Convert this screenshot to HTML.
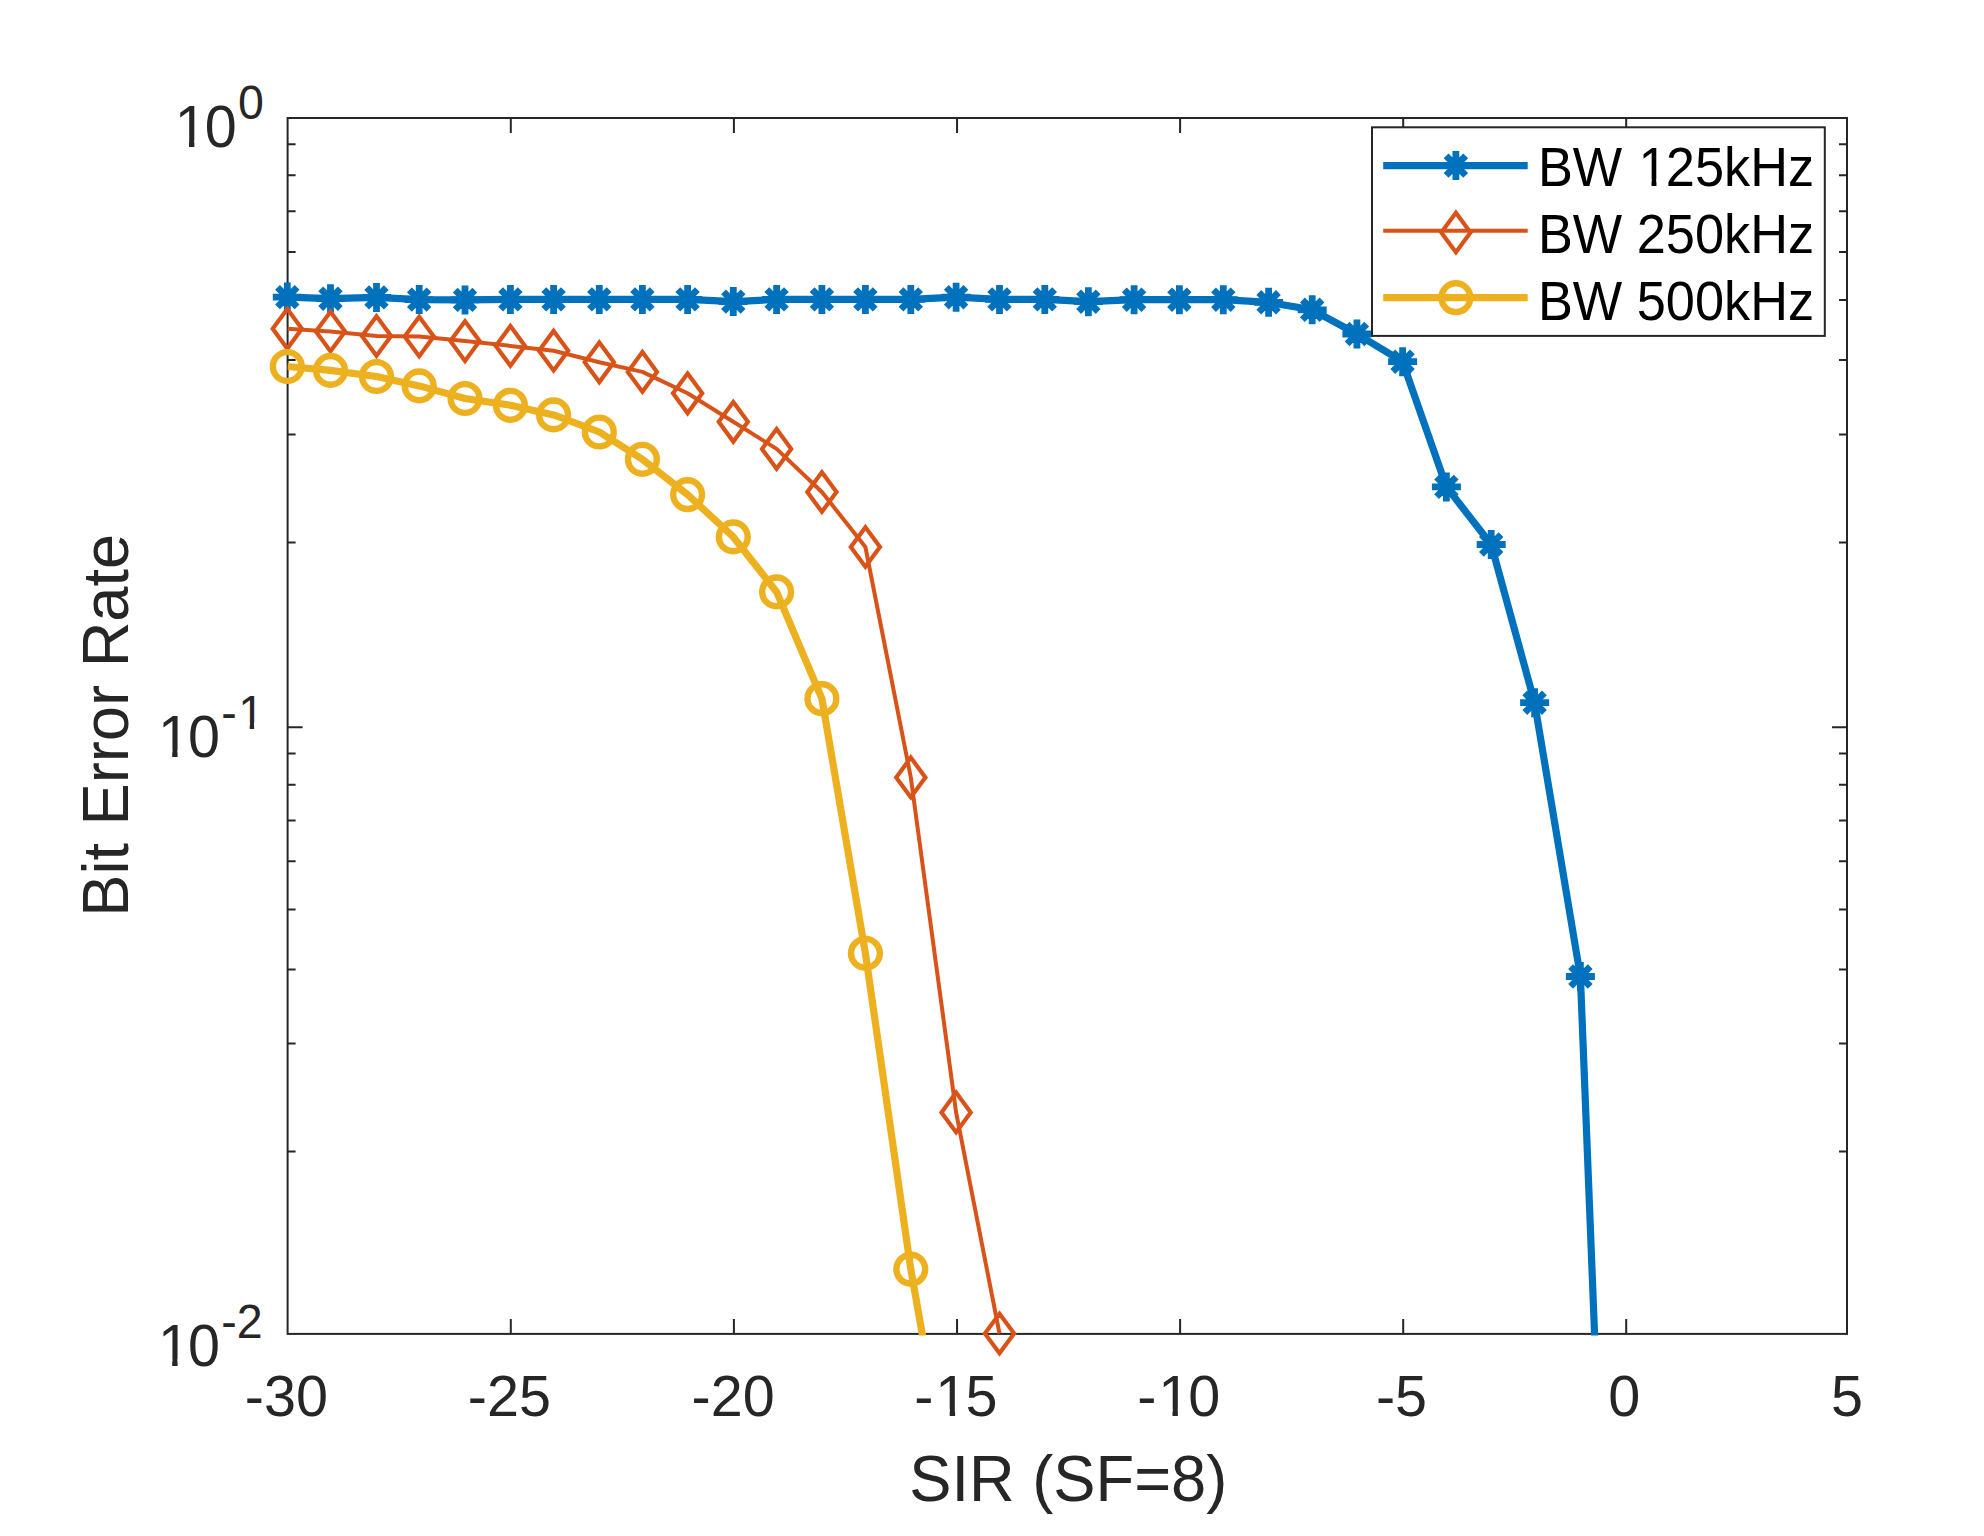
<!DOCTYPE html><html><head><meta charset="utf-8"><title>BER vs SIR</title><style>
html,body{margin:0;padding:0;background:#fff;}body{width:1984px;height:1536px;overflow:hidden;}
svg{display:block;}text{font-family:"Liberation Sans",Arial,Helvetica,sans-serif;}
</style></head><body>
<svg width="1984" height="1536" viewBox="0 0 1984 1536">
<rect width="1984" height="1536" fill="#fff"/>
<defs><clipPath id="ax"><rect x="287.6" y="118.0" width="1559.4" height="1217.5"/></clipPath></defs>
<g stroke="#262626" stroke-width="2.0" fill="none">
<rect x="287.6" y="118.0" width="1559.4" height="1215.9"/>
<path d="M510.80 1333.9v-15.0M510.80 118.0v15.0M733.90 1333.9v-15.0M733.90 118.0v15.0M957.05 1333.9v-15.0M957.05 118.0v15.0M1180.10 1333.9v-15.0M1180.10 118.0v15.0M1403.20 1333.9v-15.0M1403.20 118.0v15.0M1626.20 1333.9v-15.0M1626.20 118.0v15.0M287.6 727.2h15.0M1847.0 727.2h-15.0M287.6 144.2h8.0M1847.0 144.2h-8.0M287.6 175.3h8.0M1847.0 175.3h-8.0M287.6 211.2h8.0M1847.0 211.2h-8.0M287.6 252.0h8.0M1847.0 252.0h-8.0M287.6 300.1h8.0M1847.0 300.1h-8.0M287.6 359.9h8.0M1847.0 359.9h-8.0M287.6 434.6h8.0M1847.0 434.6h-8.0M287.6 542.5h8.0M1847.0 542.5h-8.0M287.6 753.5h8.0M1847.0 753.5h-8.0M287.6 784.7h8.0M1847.0 784.7h-8.0M287.6 820.4h8.0M1847.0 820.4h-8.0M287.6 861.2h8.0M1847.0 861.2h-8.0M287.6 909.4h8.0M1847.0 909.4h-8.0M287.6 969.4h8.0M1847.0 969.4h-8.0M287.6 1043.6h8.0M1847.0 1043.6h-8.0M287.6 1151.6h8.0M1847.0 1151.6h-8.0"/>
</g>
<polyline clip-path="url(#ax)" points="287.3,297.1 330.5,298.7 376.5,297.4 419.2,299.6 465.0,299.9 510.4,299.4 553.6,299.4 599.3,299.4 642.4,299.4 687.6,299.4 733.3,301.6 776.6,299.4 821.9,299.4 865.4,299.4 910.8,299.4 956.1,297.2 999.5,299.4 1044.8,299.4 1088.4,301.7 1134.1,299.7 1179.4,299.7 1223.3,299.7 1268.6,302.3 1312.2,309.8 1356.9,334.0 1402.6,361.7 1446.4,486.9 1491.2,544.5 1534.6,702.7 1580.4,976.5 1595.0,1345.0" fill="none" stroke="#0072BD" stroke-width="7.2" stroke-linejoin="round" stroke-linecap="butt"/>
<path d="M287.3 282.6v29.0M272.8 297.1h29.0M277.5 287.3l19.6 19.6M277.5 306.9l19.6 -19.6M330.5 284.2v29.0M316.0 298.7h29.0M320.7 288.9l19.6 19.6M320.7 308.5l19.6 -19.6M376.5 282.9v29.0M362.0 297.4h29.0M366.7 287.6l19.6 19.6M366.7 307.2l19.6 -19.6M419.2 285.1v29.0M404.7 299.6h29.0M409.4 289.8l19.6 19.6M409.4 309.4l19.6 -19.6M465.0 285.4v29.0M450.5 299.9h29.0M455.2 290.1l19.6 19.6M455.2 309.7l19.6 -19.6M510.4 284.9v29.0M495.9 299.4h29.0M500.6 289.6l19.6 19.6M500.6 309.2l19.6 -19.6M553.6 284.9v29.0M539.1 299.4h29.0M543.8 289.6l19.6 19.6M543.8 309.2l19.6 -19.6M599.3 284.9v29.0M584.8 299.4h29.0M589.5 289.6l19.6 19.6M589.5 309.2l19.6 -19.6M642.4 284.9v29.0M627.9 299.4h29.0M632.6 289.6l19.6 19.6M632.6 309.2l19.6 -19.6M687.6 284.9v29.0M673.1 299.4h29.0M677.8 289.6l19.6 19.6M677.8 309.2l19.6 -19.6M733.3 287.1v29.0M718.8 301.6h29.0M723.5 291.8l19.6 19.6M723.5 311.4l19.6 -19.6M776.6 284.9v29.0M762.1 299.4h29.0M766.8 289.6l19.6 19.6M766.8 309.2l19.6 -19.6M821.9 284.9v29.0M807.4 299.4h29.0M812.1 289.6l19.6 19.6M812.1 309.2l19.6 -19.6M865.4 284.9v29.0M850.9 299.4h29.0M855.6 289.6l19.6 19.6M855.6 309.2l19.6 -19.6M910.8 284.9v29.0M896.3 299.4h29.0M901.0 289.6l19.6 19.6M901.0 309.2l19.6 -19.6M956.1 282.7v29.0M941.6 297.2h29.0M946.3 287.4l19.6 19.6M946.3 307.0l19.6 -19.6M999.5 284.9v29.0M985.0 299.4h29.0M989.7 289.6l19.6 19.6M989.7 309.2l19.6 -19.6M1044.8 284.9v29.0M1030.3 299.4h29.0M1035.0 289.6l19.6 19.6M1035.0 309.2l19.6 -19.6M1088.4 287.2v29.0M1073.9 301.7h29.0M1078.6 291.9l19.6 19.6M1078.6 311.5l19.6 -19.6M1134.1 285.2v29.0M1119.6 299.7h29.0M1124.3 289.9l19.6 19.6M1124.3 309.5l19.6 -19.6M1179.4 285.2v29.0M1164.9 299.7h29.0M1169.6 289.9l19.6 19.6M1169.6 309.5l19.6 -19.6M1223.3 285.2v29.0M1208.8 299.7h29.0M1213.5 289.9l19.6 19.6M1213.5 309.5l19.6 -19.6M1268.6 287.8v29.0M1254.1 302.3h29.0M1258.8 292.5l19.6 19.6M1258.8 312.1l19.6 -19.6M1312.2 295.3v29.0M1297.7 309.8h29.0M1302.4 300.0l19.6 19.6M1302.4 319.6l19.6 -19.6M1356.9 319.5v29.0M1342.4 334.0h29.0M1347.1 324.2l19.6 19.6M1347.1 343.8l19.6 -19.6M1402.6 347.2v29.0M1388.1 361.7h29.0M1392.8 351.9l19.6 19.6M1392.8 371.5l19.6 -19.6M1446.4 472.4v29.0M1431.9 486.9h29.0M1436.6 477.1l19.6 19.6M1436.6 496.7l19.6 -19.6M1491.2 530.0v29.0M1476.7 544.5h29.0M1481.4 534.7l19.6 19.6M1481.4 554.3l19.6 -19.6M1534.6 688.2v29.0M1520.1 702.7h29.0M1524.8 692.9l19.6 19.6M1524.8 712.5l19.6 -19.6M1580.4 962.0v29.0M1565.9 976.5h29.0M1570.6 966.7l19.6 19.6M1570.6 986.3l19.6 -19.6" fill="none" stroke="#0072BD" stroke-width="6.8" stroke-linecap="butt"/>
<polyline clip-path="url(#ax)" points="287.3,328.8 330.5,331.5 376.5,336.0 419.2,336.5 465.0,341.1 510.4,345.9 553.6,350.7 599.3,362.3 642.4,371.9 687.6,393.3 733.3,421.8 776.6,448.9 821.9,492.0 865.4,547.0 910.8,777.4 956.1,1112.4 999.5,1333.5" fill="none" stroke="#D95319" stroke-width="4.0" stroke-linejoin="round" stroke-linecap="butt"/>
<path d="M287.3 309.0L301.9 328.8L287.3 348.6L272.7 328.8ZM330.5 311.7L345.1 331.5L330.5 351.3L315.9 331.5ZM376.5 316.2L391.1 336.0L376.5 355.8L361.9 336.0ZM419.2 316.7L433.8 336.5L419.2 356.3L404.6 336.5ZM465.0 321.3L479.6 341.1L465.0 360.9L450.4 341.1ZM510.4 326.1L525.0 345.9L510.4 365.7L495.8 345.9ZM553.6 330.9L568.2 350.7L553.6 370.5L539.0 350.7ZM599.3 342.5L613.9 362.3L599.3 382.1L584.7 362.3ZM642.4 352.1L657.0 371.9L642.4 391.7L627.8 371.9ZM687.6 373.5L702.2 393.3L687.6 413.1L673.0 393.3ZM733.3 402.0L747.9 421.8L733.3 441.6L718.7 421.8ZM776.6 429.1L791.2 448.9L776.6 468.7L762.0 448.9ZM821.9 472.2L836.5 492.0L821.9 511.8L807.3 492.0ZM865.4 527.2L880.0 547.0L865.4 566.8L850.8 547.0ZM910.8 757.6L925.4 777.4L910.8 797.2L896.2 777.4ZM956.1 1092.6L970.7 1112.4L956.1 1132.2L941.5 1112.4ZM999.5 1313.7L1014.1 1333.5L999.5 1353.3L984.9 1333.5Z" fill="none" stroke="#D95319" stroke-width="4.2" stroke-linejoin="miter"/>
<polyline clip-path="url(#ax)" points="287.3,366.5 330.5,370.4 376.5,376.5 419.2,385.9 465.0,398.5 510.4,405.3 553.6,414.9 599.3,432.0 642.4,459.3 687.6,494.6 733.3,536.9 776.6,591.9 821.9,698.7 865.4,953.3 910.8,1269.2 924.2,1345.0" fill="none" stroke="#EDB120" stroke-width="7.2" stroke-linejoin="round" stroke-linecap="butt"/>
<g fill="none" stroke="#EDB120" stroke-width="6.4"><circle cx="287.3" cy="366.5" r="14.4"/><circle cx="330.5" cy="370.4" r="14.4"/><circle cx="376.5" cy="376.5" r="14.4"/><circle cx="419.2" cy="385.9" r="14.4"/><circle cx="465.0" cy="398.5" r="14.4"/><circle cx="510.4" cy="405.3" r="14.4"/><circle cx="553.6" cy="414.9" r="14.4"/><circle cx="599.3" cy="432.0" r="14.4"/><circle cx="642.4" cy="459.3" r="14.4"/><circle cx="687.6" cy="494.6" r="14.4"/><circle cx="733.3" cy="536.9" r="14.4"/><circle cx="776.6" cy="591.9" r="14.4"/><circle cx="821.9" cy="698.7" r="14.4"/><circle cx="865.4" cy="953.3" r="14.4"/><circle cx="910.8" cy="1269.2" r="14.4"/></g>
<g fill="#262626" font-size="57.50" text-anchor="middle">
<text x="286.4" y="1415.8">-30</text>
<text x="509.4" y="1415.8">-25</text>
<text x="733.1" y="1415.8">-20</text>
<text x="955.9" y="1415.8">-<tspan dx="1.88">1</tspan><tspan dx="-1.88">5</tspan></text>
<text x="1178.7" y="1415.8">-<tspan dx="1.88">1</tspan><tspan dx="-1.88">0</tspan></text>
<text x="1401.5" y="1415.8">-5</text>
<text x="1624.2" y="1415.8">0</text>
<text x="1847.0" y="1415.8">5</text>
</g>
<text transform="translate(172.8 147.4) scale(1 1.03)" fill="#262626" font-size="57.50"><tspan dx="1.88">1</tspan><tspan dx="-1.88">0</tspan><tspan font-size="46.50" dx="1.2" dy="-27.4">0</tspan></text>
<text transform="translate(156.0 756.8) scale(1 1.03)" fill="#262626" font-size="57.50"><tspan dx="1.88">1</tspan><tspan dx="-1.88">0</tspan><tspan font-size="46.50" dx="1.2" dy="-27.4">-<tspan dx="1.52">1</tspan></tspan></text>
<text transform="translate(156.0 1365.9) scale(1 1.03)" fill="#262626" font-size="57.50"><tspan dx="1.88">1</tspan><tspan dx="-1.88">0</tspan><tspan font-size="46.50" dx="1.2" dy="-27.4">-2</tspan></text>
<text transform="translate(1068.3 1500.9) scale(1 1.03)" fill="#262626" font-size="63.25" text-anchor="middle">SIR (SF=8)</text>
<text transform="translate(127.8 725.3) rotate(-90) scale(1 1.03)" fill="#262626" font-size="63.25" text-anchor="middle">Bit Error Rate</text>
<rect x="1372.0" y="127.3" width="452.8" height="208.6" fill="#fff" stroke="#262626" stroke-width="2"/>
<path d="M1383.2 165.6H1527.7" stroke="#0072BD" stroke-width="7.2"/>
<path d="M1455.9 151.1v29.0M1441.4 165.6h29.0M1446.1 155.8l19.6 19.6M1446.1 175.4l19.6 -19.6" fill="none" stroke="#0072BD" stroke-width="6.8" stroke-linecap="butt"/>
<text transform="translate(1538.0 185.8) scale(1 1.05)" fill="#000" font-size="52.3">BW <tspan dx="1.71">1</tspan><tspan dx="-1.71">2</tspan>5kHz</text>
<path d="M1383.2 230.8H1527.7" stroke="#D95319" stroke-width="4.0"/>
<path d="M1455.9 212.7L1470.5 232.5L1455.9 252.3L1441.3 232.5Z" fill="none" stroke="#D95319" stroke-width="4.2"/>
<text transform="translate(1538.0 253.1) scale(1 1.05)" fill="#000" font-size="52.3">BW 250kHz</text>
<path d="M1383.2 297.7H1527.7" stroke="#EDB120" stroke-width="7.2"/>
<circle cx="1455.9" cy="297.7" r="14.4" fill="none" stroke="#EDB120" stroke-width="6.4"/>
<text transform="translate(1538.0 320.3) scale(1 1.05)" fill="#000" font-size="52.3">BW 500kHz</text>
<g fill="#fff"><rect x="177.56" y="140.38" width="11.44" height="8.22"/><rect x="194.37" y="140.38" width="10.94" height="8.22"/><rect x="160.76" y="749.78" width="11.44" height="8.22"/><rect x="177.57" y="749.78" width="10.94" height="8.22"/><rect x="160.76" y="1358.88" width="11.44" height="8.22"/><rect x="177.57" y="1358.88" width="10.94" height="8.22"/><rect x="240.47" y="722.75" width="9.22" height="7.03"/><rect x="254.10" y="722.75" width="8.84" height="7.03"/><rect x="938.27" y="1408.96" width="11.44" height="8.04"/><rect x="955.09" y="1408.96" width="10.94" height="8.04"/><rect x="1161.04" y="1408.96" width="11.44" height="8.04"/><rect x="1177.86" y="1408.96" width="10.94" height="8.04"/><rect x="1641.12" y="179.23" width="10.39" height="7.77"/><rect x="1656.43" y="179.23" width="9.95" height="7.77"/></g>
</svg></body></html>
